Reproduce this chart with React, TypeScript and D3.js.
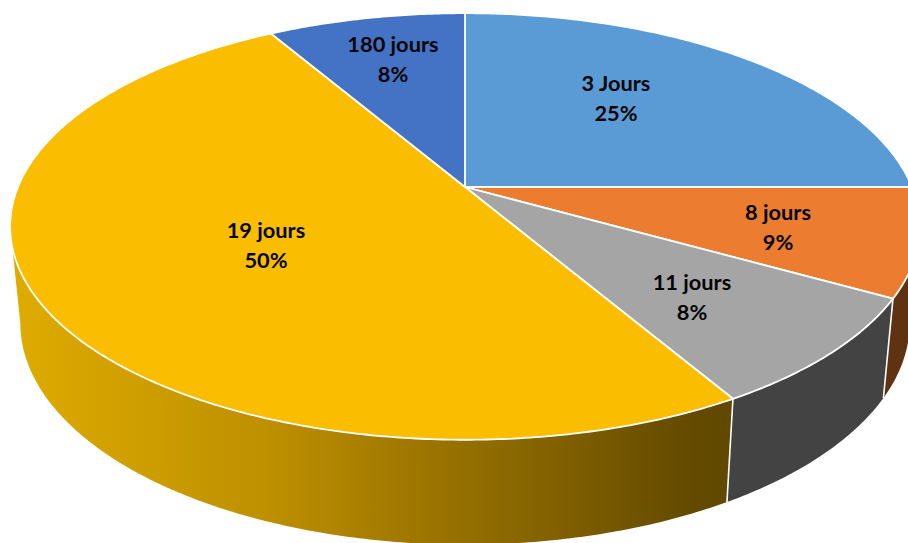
import * as d3 from 'd3'

const categories = ['3 Jours', '8 jours', '11 jours', '19 jours', '180 jours']
const shares = [25, 8.2, 8.4, 50, 8.4]
const percentLabels = ['25%', '9%', '8%', '50%', '8%']

const topColors = ['#5B9BD5', '#EB7C30', '#A5A5A5', '#FBBD00', '#4472C4']
const wallColors = ['#2f5d88', '#5f3212', '#434343', 'url(#yellowWall)', '#264478']

// label centre x and first-line baseline
const labelX = [616, 778, 692, 266, 393]
const labelY = [91, 220, 290, 238, 52]

const W = 908
const H = 543

// Perspective projection of the unit disc, k makes the back of the pie smaller
const PERSP = 0.185
const CX = 465
const TOP = { cy: 187, rx: 447, ry: 206 }
const BOTTOM = { cy: 282, rx: 437, ry: 214 }

// where the rim turns away from the viewer, walls only exist between these
const WALL_START = Math.acos(-PERSP)
const WALL_END = 2 * Math.PI - WALL_START

type Plane = typeof TOP

function project(angle: number, plane: Plane): [number, number] {
  const u = Math.sin(angle)
  const v = Math.cos(angle)
  const w = 1 + PERSP * v
  return [CX + (plane.rx * u) / w, plane.cy - (plane.ry * v) / w]
}

function rim(a0: number, a1: number, plane: Plane): [number, number][] {
  const n = Math.max(2, Math.ceil(Math.abs(a1 - a0) / 0.01))
  return d3.range(n + 1).map((i) => project(a0 + ((a1 - a0) * i) / n, plane))
}

const line = d3.line()

export default function App() {
  const slices = d3.pie<number>().sort(null).startAngle(0).endAngle(2 * Math.PI)(shares)
  const center: [number, number] = [CX, TOP.cy]

  return (
    <svg
      width={W}
      height={H}
      viewBox={`0 0 ${W} ${H}`}
      style={{ position: 'absolute', left: 0, top: 0, background: '#fff' }}
    >
      <defs>
        <linearGradient id="yellowWall" gradientUnits="userSpaceOnUse" x1={10} y1={0} x2={730} y2={0}>
          <stop offset="0" stopColor="#dfac00" />
          <stop offset="0.35" stopColor="#bf9000" />
          <stop offset="0.7" stopColor="#8a6700" />
          <stop offset="0.95" stopColor="#634a00" />
          <stop offset="1" stopColor="#624900" />
        </linearGradient>
      </defs>

      {/* Side walls, clamped to the front of the pie */}
      {slices.map((s, i) => {
        const a0 = Math.max(s.startAngle, WALL_START)
        const a1 = Math.min(s.endAngle, WALL_END)
        if (a1 <= a0) return null
        return (
          <path
            key={`wall-${i}`}
            d={line([...rim(a0, a1, TOP), ...rim(a1, a0, BOTTOM)]) + 'Z'}
            fill={wallColors[i]}
          />
        )
      })}

      {/* White seams between the front walls */}
      {slices
        .filter((s) => s.startAngle > WALL_START && s.startAngle < WALL_END)
        .map((s, i) => (
          <path
            key={`seam-${i}`}
            d={line([project(s.startAngle, TOP), project(s.startAngle, BOTTOM)]) ?? ''}
            stroke="#fff"
            strokeWidth={1.6}
            fill="none"
          />
        ))}

      {/* Top face */}
      {slices.map((s, i) => (
        <path
          key={`top-${i}`}
          d={line([center, ...rim(s.startAngle, s.endAngle, TOP)]) + 'Z'}
          fill={topColors[i]}
          stroke="#fff"
          strokeWidth={1.8}
          strokeLinejoin="round"
        />
      ))}

      {/* Labels */}
      {categories.map((c, i) => (
        <text
          key={c}
          textAnchor="middle"
          style={{ fontFamily: 'Lato, "Open Sans", sans-serif', fontWeight: 700, fontSize: 21.8, fill: '#050505' }}
        >
          <tspan x={labelX[i]} y={labelY[i]}>{c}</tspan>
          <tspan x={labelX[i]} y={labelY[i] + 30}>{percentLabels[i]}</tspan>
        </text>
      ))}
    </svg>
  )
}
